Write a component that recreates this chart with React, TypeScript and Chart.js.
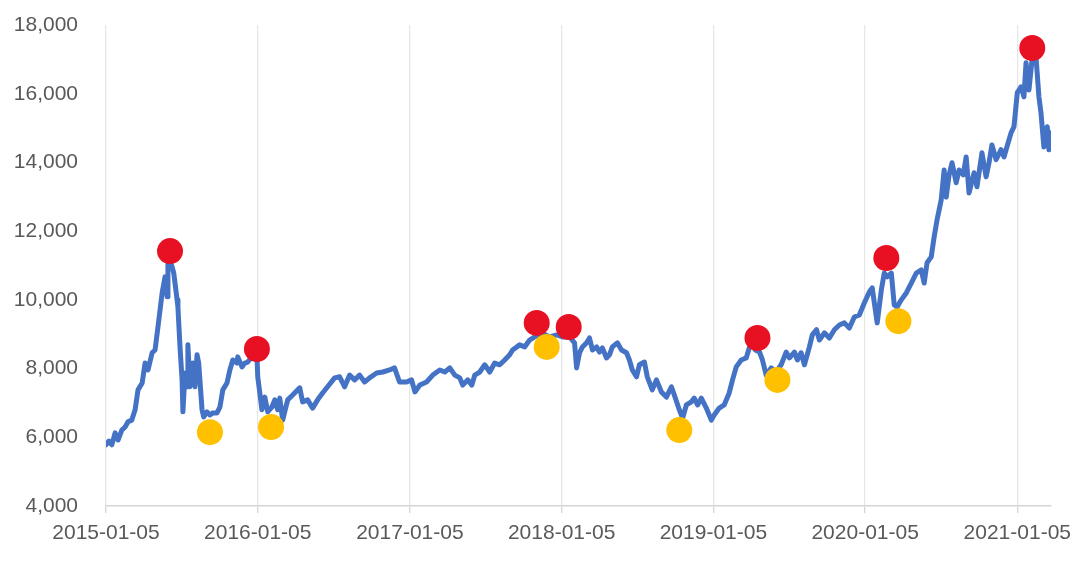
import React, { useEffect, useRef } from "react";
import { Chart, registerables } from "chart.js";

Chart.register(...registerables);

// Days since 2015-01-05
const lineDays = [
  0, 7, 14, 22, 29, 38, 46, 53, 62, 70, 77, 87, 94, 101, 111, 118, 125, 135, 142, 147,
  149, 154, 159, 163, 171, 173, 178, 183, 185, 190, 195, 197, 202, 209, 214, 219, 223, 231, 235, 243,
  250, 257, 267, 274, 281, 291, 298, 305, 315, 317, 327, 334, 341, 351, 358, 363, 365, 370, 375, 382,
  389, 399, 406, 413, 418, 425, 437, 449, 466, 473, 485, 497, 509, 521, 533, 550, 562, 574, 586, 598,
  610, 622, 634, 651, 666, 682, 694, 706, 723, 735, 743, 755, 771, 786, 803, 815, 827, 839, 851, 858,
  870, 880, 887, 899, 911, 923, 935, 947, 959, 971, 978, 995, 1007, 1019, 1031, 1048, 1067, 1084, 1098, 1115,
  1127, 1132, 1139, 1146, 1156, 1163, 1170, 1180, 1187, 1194, 1204, 1211, 1218, 1230, 1240, 1252, 1259, 1266, 1276, 1283,
  1295, 1302, 1314, 1324, 1336, 1348, 1360, 1367, 1379, 1387, 1396, 1408, 1415, 1423, 1432, 1444, 1456, 1463, 1475, 1487,
  1499, 1507, 1516, 1528, 1540, 1548, 1555, 1562, 1572, 1579, 1588, 1600, 1612, 1624, 1636, 1644, 1656, 1663, 1672, 1680,
  1692, 1699, 1709, 1716, 1728, 1740, 1752, 1764, 1776, 1788, 1800, 1812, 1824, 1836, 1843, 1855, 1865, 1872, 1879, 1889,
  1896, 1903, 1913, 1925, 1937, 1949, 1961, 1968, 1975, 1985, 1992, 1999, 2009, 2016, 2021, 2028, 2035, 2045, 2052, 2062,
  2069, 2076, 2088, 2095, 2107, 2117, 2124, 2131, 2141, 2153, 2160, 2167, 2177, 2184, 2192, 2201, 2208, 2213, 2220, 2228,
  2237, 2244, 2249, 2256, 2264, 2268, 2273,
];

const lineValues = [
  5780, 5890, 5780, 6130, 5920, 6210, 6300, 6450, 6500, 6800, 7380, 7580, 8160, 7960, 8460, 8540, 9210, 10200, 10670, 10090,
  11080, 11160, 10960, 10780, 10000, 9790, 8630, 7670, 6740, 7870, 7470, 8690, 7470, 8160, 7470, 8400, 8160, 6800, 6590, 6740,
  6650, 6710, 6710, 6880, 7380, 7580, 7960, 8250, 8160, 8340, 8050, 8160, 8190, 8340, 8460, 8400, 7760, 7290, 6800, 7170,
  6740, 6880, 7090, 6800, 7140, 6500, 7090, 7230, 7440, 7030, 7090, 6850, 7090, 7290, 7470, 7730, 7760, 7470, 7810, 7670,
  7810, 7610, 7730, 7870, 7900, 7960, 8020, 7610, 7610, 7670, 7320, 7520, 7610, 7810, 7960, 7900, 8020, 7810, 7730, 7520,
  7670, 7520, 7810, 7900, 8110, 7900, 8160, 8110, 8250, 8400, 8540, 8690, 8630, 8830, 8920, 9040, 8920, 8980, 8920, 8920,
  8750, 8020, 8460, 8630, 8750, 8890, 8540, 8630, 8480, 8600, 8310, 8400, 8630, 8750, 8540, 8460, 8250, 7960, 7760, 8110,
  8190, 7760, 7380, 7670, 7320, 7170, 7470, 7230, 6800, 6560, 6940, 7030, 7140, 6940, 7140, 6850, 6500, 6650, 6850, 6940,
  7290, 7670, 8050, 8250, 8310, 8630, 8690, 8540, 8480, 8250, 7810, 8020, 7900, 8110, 8480, 8310, 8480, 8250, 8460, 8110,
  8630, 8980, 9130, 8830, 9040, 8890, 9130, 9270, 9330, 9180, 9500, 9560, 9910, 10230, 10350, 9330, 10290, 10780, 10670, 10780,
  9850, 9790, 10000, 10200, 10490, 10780, 10870, 10490, 11080, 11250, 11830, 12330, 12910, 13780, 12990, 13640, 13990, 13410, 13780, 13640,
  14160, 13110, 13700, 13290, 14280, 13580, 13990, 14510, 14080, 14370, 14160, 14450, 14860, 15040, 16030, 16200, 15910, 16900, 16110, 17050,
  17070, 15910, 15440, 14450, 15040, 14370, 14860,
];

const peakDays = [154, 363, 1036, 1113, 1567, 1877, 2228];
const peakValues = [11420, 8570, 9330, 9210, 8890, 11220, 17330];

const troughDays = [250, 397, 1060, 1379, 1615, 1906];
const troughValues = [6150, 6300, 8630, 6210, 7670, 9380];

const tickDays = [0, 365, 731, 1096, 1461, 1826, 2192];
const tickLabels = [
  "2015-01-05",
  "2016-01-05",
  "2017-01-05",
  "2018-01-05",
  "2019-01-05",
  "2020-01-05",
  "2021-01-05",
];

const lastDay = 2273;

export default function App() {
  const canvasRef = useRef<HTMLCanvasElement | null>(null);

  useEffect(() => {
    const canvas = canvasRef.current;
    if (!canvas) return;
    const font = { family: "'Liberation Sans', Arial, sans-serif", size: 21 };
    const chart = new Chart(canvas, {
      type: "line",
      data: {
        datasets: [
          {
            label: "trough",
            data: troughDays.map((d, i) => ({ x: d, y: troughValues[i] })),
            showLine: false,
            pointRadius: 13,
            pointHoverRadius: 13,
            pointBackgroundColor: "#FFC000",
            pointBorderWidth: 0,
            borderColor: "#FFC000",
            order: 0,
          },
          {
            label: "peak",
            data: peakDays.map((d, i) => ({ x: d, y: peakValues[i] })),
            showLine: false,
            pointRadius: 13,
            pointHoverRadius: 13,
            pointBackgroundColor: "#E81123",
            pointBorderWidth: 0,
            borderColor: "#E81123",
            order: 1,
          },
          {
            label: "index",
            data: lineDays.map((d, i) => ({ x: d, y: lineValues[i] })),
            borderColor: "#4472C4",
            borderWidth: 5,
            pointRadius: 0,
            tension: 0,
            borderJoinStyle: "round",
            borderCapStyle: "round",
            order: 2,
          },
        ],
      },
      options: {
        responsive: false,
        animation: false,
        layout: { autoPadding: false, padding: { top: 25, right: 28, bottom: 0, left: 0 } },
        plugins: {
          legend: { display: false },
          tooltip: { enabled: false },
        },
        scales: {
          x: {
            type: "linear",
            min: 0,
            max: lastDay,
            afterBuildTicks: (scale: any) => {
              scale.ticks = tickDays.map((v) => ({ value: v }));
            },
            afterFit: (scale: any) => {
              scale.height = 59;
            },
            ticks: {
              autoSkip: false,
              maxRotation: 0,
              padding: 8,
              color: "#595959",
              font,
              callback: (v: any) => {
                const i = tickDays.indexOf(Number(v));
                return i >= 0 ? tickLabels[i] : "";
              },
            },
            grid: {
              display: true,
              color: "#e6e6e6",
              lineWidth: 1.3,
              drawTicks: true,
              tickLength: 7,
              tickColor: "#d4d4d4",
            },
            border: { display: true, color: "#d4d4d4", width: 1.5 },
          },
          y: {
            type: "linear",
            min: 4000,
            max: 18000,
            afterFit: (scale: any) => {
              scale.width = 106;
              scale.paddingTop = 13;
              scale.paddingBottom = 13;
            },
            ticks: {
              stepSize: 2000,
              padding: 28,
              color: "#595959",
              font,
              callback: (v: any) => Number(v).toLocaleString("en-US"),
            },
            grid: { display: false, drawTicks: false },
            border: { display: false },
          },
        },
      },
    });
    return () => chart.destroy();
  }, []);

  return (
    <div style={{ position: "fixed", left: 0, top: 0, width: 1080, height: 565, background: "#ffffff" }}>
      <canvas ref={canvasRef} width={1080} height={565} style={{ display: "block" }} />
    </div>
  );
}
